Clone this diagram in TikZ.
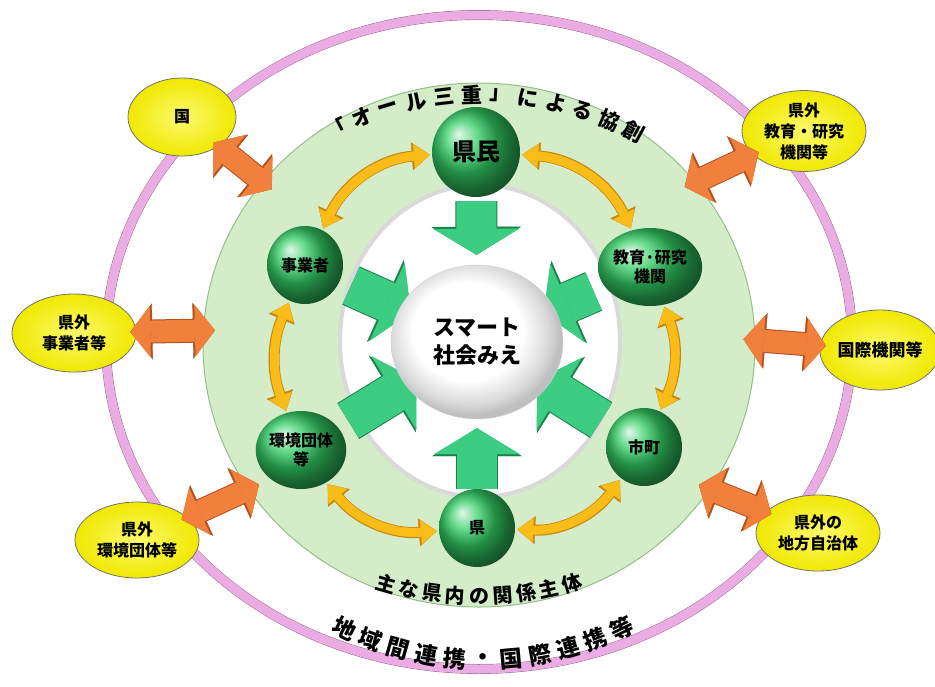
\documentclass[tikz,border=0pt]{standalone}
\usepackage{fontspec}
\setmainfont{Noto Sans CJK JP}
\usepackage{xcolor}
\usepackage{tikz}
\usetikzlibrary{shapes.geometric, arrows.meta, positioning}

\definecolor{pinkring}{RGB}{234,172,226}
\definecolor{pinkedge}{RGB}{140,95,130}
\definecolor{ringgreen}{RGB}{212,236,200}
\definecolor{ringedge}{RGB}{150,190,140}
\definecolor{ballgreen}{RGB}{50,205,100}
\definecolor{flowgreen}{RGB}{60,205,130}
\definecolor{flowedge}{RGB}{25,130,75}
\definecolor{goldarrow}{RGB}{250,188,25}
\definecolor{goldedge}{RGB}{200,135,15}
\definecolor{bridgeorange}{RGB}{240,128,60}
\definecolor{bridgeedge}{RGB}{175,80,30}
\definecolor{partneryellow}{RGB}{240,232,0}
\definecolor{partnerlight}{RGB}{252,250,110}

\pgfdeclareradialshading{whiterim}{\pgfpoint{-4bp}{5bp}}{color(0bp)=(white); color(16bp)=(white); color(23bp)=(gray!30); color(26bp)=(gray!50); color(50bp)=(gray!50)}

\pgfdeclarelayer{back}
\pgfdeclarelayer{flow}
\pgfsetlayers{back,flow,main}

\begin{document}
\begin{tikzpicture}[
    x=1pt, y=-1pt, font=\bfseries,
    linkage/.style={ellipse, minimum width=746pt, minimum height=654pt, inner sep=0pt, draw=pinkedge, double=pinkring, double distance=9pt},
    cocreation/.style={ellipse, minimum width=552pt, minimum height=524pt, inner sep=0pt, fill=ringgreen, draw=ringedge, line width=1pt},
    corezone/.style={ellipse, minimum width=280pt, minimum height=312pt, inner sep=0pt, fill=white, draw=gray!30, line width=4pt},
    actor/.style={ellipse, minimum width=76pt, minimum height=78pt, inner sep=0pt, ball color=ballgreen, align=center, font=\bfseries\fontsize{16}{19}\selectfont},
    hub/.style={ellipse, minimum width=172pt, minimum height=154pt, inner sep=0pt, shading=whiterim, draw=gray!35, align=center, font=\bfseries\fontsize{22}{28}\selectfont},
    partner/.style={ellipse, minimum width=124pt, minimum height=78pt, inner sep=0pt, draw=black!55, line width=0.8pt, inner color=partnerlight, outer color=partneryellow, align=center, font=\bfseries\fontsize{16}{21}\selectfont},
    bond/.style={line width=9pt, draw=goldarrow, arrows={Triangle[length=16pt,width=24pt,line width=0.4pt]-Triangle[length=16pt,width=24pt,line width=0.4pt]}, shorten <=2pt, shorten >=2pt,
        preaction={draw=goldedge, line width=11pt, arrows={Triangle[length=18pt,width=28pt,line width=0.4pt]-Triangle[length=18pt,width=28pt,line width=0.4pt]}}},
    inflow/.style={line width=40pt, draw=flowgreen, arrows={-Triangle[length=26pt,width=86pt,line width=0.4pt]},
        preaction={draw=flowedge, line width=42pt, arrows={-Triangle[length=28pt,width=90pt,line width=0.4pt]}}},
    bridge/.style={line width=22pt, draw=bridgeorange, arrows={Triangle[length=20pt,width=52pt,line width=0.4pt]-Triangle[length=20pt,width=52pt,line width=0.4pt]}, shorten <=-6pt, shorten >=-12pt,
        preaction={draw=bridgeedge, line width=24pt, arrows={Triangle[length=22pt,width=56pt,line width=0.4pt]-Triangle[length=22pt,width=56pt,line width=0.4pt]}}},
    arctext/.style={inner sep=0pt, font=\bfseries\fontsize{21}{21}\selectfont}
]
    \useasboundingbox (0,0) rectangle (935,686);

    % rings
    \begin{pgfonlayer}{back}
        \node[linkage] (outer) at (479,342) {};
        \node[cocreation] (ring) at (479,345) {};
        \node[corezone] (core) at (480,341) {};
    \end{pgfonlayer}

    % main actors in the prefecture
    \node[hub] (smart) at (477,342) {スマート\\社会みえ};
    \node[actor, minimum width=88pt, minimum height=90pt, font=\bfseries\fontsize{24}{26}\selectfont] (citizens) at (476,152) {県民};
    \node[actor] (business) at (305,265) {事業者};
    \node[actor] (research) at (650,267) {教育·研究\\機関};
    \node[actor] (envgroups) at (301,450) {環境団体\\等};
    \node[actor] (municipal) at (644,447) {市町};
    \node[actor] (pref) at (477,528) {県};

    \begin{pgfonlayer}{flow}
        \draw[inflow, shorten <=4pt, shorten >=10pt] (citizens) -- (smart);
        \draw[inflow, shorten <=0pt, shorten >=9pt] (pref) -- (smart);
        \draw[inflow, shorten <=12pt, shorten >=-12pt] (business) -- (smart);
        \draw[inflow, shorten <=12pt, shorten >=-12pt] (research) -- (smart);
        \draw[inflow, shorten <=12pt, shorten >=-12pt] (envgroups) -- (smart);
        \draw[inflow, shorten <=12pt, shorten >=-12pt] (municipal) -- (smart);
    \end{pgfonlayer}

    \draw[bond] (citizens) to[bend right=30] (business);
    \draw[bond] (business) to[bend right=22] (envgroups);
    \draw[bond] (envgroups) to[bend right=28] (pref);
    \draw[bond] (pref) to[bend right=28] (municipal);
    \draw[bond] (municipal) to[bend right=22] (research);
    \draw[bond] (research) to[bend right=30] (citizens);

    % partners outside the prefecture
    \node[partner, minimum width=108pt] (nation) at (182,117) {国};
    \node[partner] (extresearch) at (804,131) {県外\\教育・研究\\機関等};
    \node[partner] (extbusiness) at (74,333) {県外\\事業者等};
    \node[partner, minimum width=104pt, minimum height=80pt, font=\bfseries\fontsize{17}{20}\selectfont] (intl) at (880,350) {国際機関等};
    \node[partner, minimum height=76pt] (extenv) at (137,540) {県外\\環境団体等};
    \node[partner, minimum height=76pt] (extlocal) at (818,533) {県外の\\地方自治体};

    \draw[bridge] (nation) -- (ring.143);
    \draw[bridge] (extresearch) -- (ring.37);
    \draw[bridge] (extbusiness) -- (ring.177);
    \draw[bridge] (intl) -- (ring.1);
    \draw[bridge] (extenv) -- (ring.212);
    \draw[bridge] (extlocal) -- (ring.328);

    % curved captions
    \foreach \ch [count=\i] in {「,オ,ー,ル,三,重,」,に,よ,る,協,創}{
        \pgfmathsetmacro\a{120-(\i-1)*5.6}
        \node[arctext, rotate={(\a-90)*0.9}] (top\i) at ({482+290*cos(\a)},{345-250*sin(\a)}) {\ch};
    }
    \foreach \ch [count=\i] in {主,な,県,内,の,関,係,主,体}{
        \pgfmathsetmacro\a{252+(\i-1)*4.5}
        \node[arctext, font=\bfseries\fontsize{20}{20}\selectfont, rotate={(\a-270)*0.9}] (inner\i) at ({479+300*cos(\a)},{345-251*sin(\a)}) {\ch};
    }
    \foreach \ch [count=\i] in {地,域,間,連,携,・,国,際,連,携,等}{
        \pgfmathsetmacro\a{244+(\i-1)*5.2}
        \node[arctext, font=\bfseries\fontsize{23}{23}\selectfont, rotate={\a-270}] (link\i) at ({483+316*cos(\a)},{345-315*sin(\a)}) {\ch};
    }
\end{tikzpicture}
\end{document}
